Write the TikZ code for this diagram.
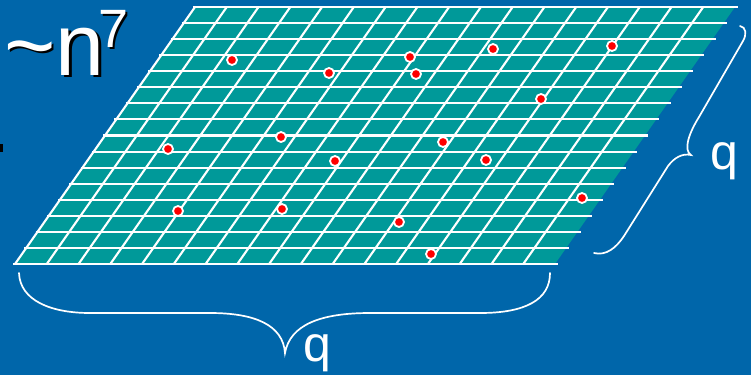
\documentclass[tikz,border=0pt]{standalone}
\usepackage{fontspec}
\setmainfont{Liberation Sans}
\definecolor{bg}{RGB}{0,102,170}
\definecolor{tealfill}{RGB}{0,153,153}
\begin{document}
\begin{tikzpicture}[x=1pt,y=-1pt,
  gridline/.style={white,line width=2.1pt},
  dot/.style={circle,fill=red,draw=white,line width=1.8pt,minimum size=10pt,inner sep=0pt},
  bracestyle/.style={white,line width=1.7pt,line cap=round},
  lbl/.style={white,inner sep=0pt,anchor=base west,font=\fontsize{50}{50}\selectfont},
  bigtxt/.style={inner sep=0pt,anchor=base west,font=\fontsize{88}{88}\selectfont},
  suptxt/.style={inner sep=0pt,anchor=base west,font=\fontsize{54}{54}\selectfont}]
\fill[bg] (0,0) rectangle (751,375);
\useasboundingbox (0,0) rectangle (751,375);
% grid
\fill[tealfill] (15,264) -- (555,264) -- (735,7) -- (195,7) -- cycle;
\foreach \j in {0,...,16}{
  \pgfmathsetmacro\yy{7+\j*257/16}
  \pgfmathsetmacro\xl{195-180*\j/16}
  \draw[gridline] ({\xl-2},\yy) -- ({\xl+543},\yy);
}
\foreach \i in {0,...,16}{
  \draw[gridline] ({15+\i*540/17},264) -- ({195+\i*540/17},7);
}
% dots
\foreach \p [count=\k] in {(232,60),(329,73),(410,57),(416,74),(493,49),(612,46),(541,99),(281,137),(443,142),(168,149),(335,161),(486,160),(582,198),(178,211),(282,209),(399,222),(431,254)}
  \node[dot] (d\k) at \p {};
% title with shadow
\node[bigtxt,black] (tshadow) at (6.5,77.5) {\textasciitilde n};
\node[bigtxt,white] (title) at (4,75) {\textasciitilde n};
\node[suptxt,black] (eshadow) at (100.5,49.5) {7};
\node[suptxt,white] (expo) at (98,47) {7};
% small black mark
\fill[black] (0,144) rectangle (3,152);
% bottom brace
\draw[bracestyle] (19,273) .. controls (20,300) and (50,313) .. (90,313) -- (210,313)
  .. controls (255,313) and (283,325) .. (285,353)
  .. controls (290,325) and (320,313) .. (370,313) -- (480,313)
  .. controls (525,313) and (550,300) .. (550,273);
% right brace
\draw[bracestyle] (740,26) .. controls (746,27) and (747,34) .. (743,41) -- (699,117)
  .. controls (689,133) and (683,150) .. (691,155)
  .. controls (682,153) and (674,158) .. (668,166) -- (624,236)
  .. controls (616,248) and (606,256) .. (594,253);
% labels
\node[lbl] (qb) at (303,361) {q};
\node[lbl] (qr) at (710,169) {q};
\end{tikzpicture}
\end{document}
